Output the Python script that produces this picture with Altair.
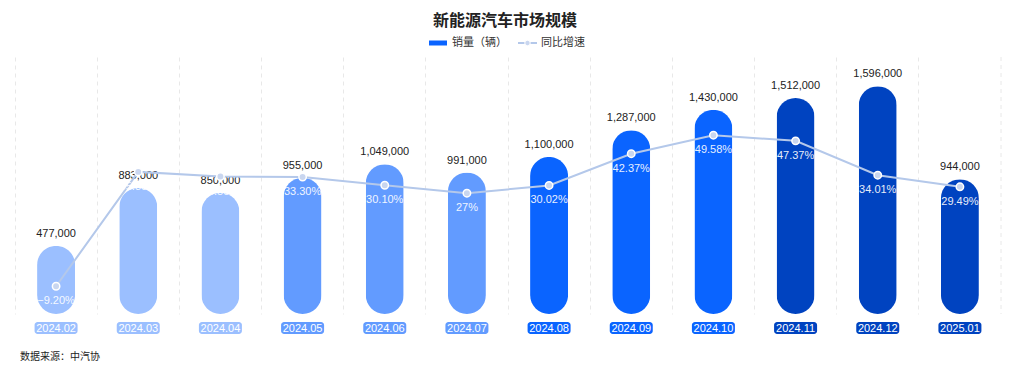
import altair as alt
import pandas as pd

months = ["2024.02", "2024.03", "2024.04", "2024.05", "2024.06", "2024.07",
          "2024.08", "2024.09", "2024.10", "2024.11", "2024.12", "2025.01"]
sales = [477000, 883000, 850000, 955000, 1049000, 991000,
         1100000, 1287000, 1430000, 1512000, 1596000, 944000]
growth = [-9.20, 35.30, 33.50, 33.30, 30.10, 27.00,
          30.02, 42.37, 49.58, 47.37, 34.01, 29.49]
growth_labels = ["−9.20%", "35.30%", "33.50%", "33.30%", "30.10%", "27%",
                 "30.02%", "42.37%", "49.58%", "47.37%", "34.01%", "29.49%"]
bar_colors = ["#9bbfff"] * 3 + ["#629bff"] * 3 + ["#0a64ff"] * 3 + ["#0043c0"] * 3

df = pd.DataFrame({
    "month": months,
    "sales": sales,
    "growth": growth,
    "glabel": growth_labels,
    "slabel": [f"{v:,}" for v in sales],
})

FONT_NUM = "Liberation Sans"
FONT_CJK = "Noto Sans CJK SC"

x_enc = alt.X("month:N", sort=months,
              scale=alt.Scale(paddingInner=0, paddingOuter=0),
              axis=alt.Axis(bandPosition=0, grid=True, gridDash=[4, 4],
                            gridColor="#e8e8e8", labels=False, ticks=False,
                            domain=False, title=None))
y_sales = alt.Y("sales:Q", scale=alt.Scale(domain=[0, 1800000]), axis=None)
y_growth = alt.Y("growth:Q", scale=alt.Scale(domain=[-20, 80]), axis=None)
color_enc = alt.Color("month:N", scale=alt.Scale(domain=months, range=bar_colors), legend=None)

base = alt.Chart(df)

bars = base.mark_bar(width=38, cornerRadius=19).encode(x=x_enc, y=y_sales, color=color_enc)
bar_labels = base.mark_text(baseline="bottom", dy=-7, fontSize=11, color="#222",
                            font=FONT_NUM).encode(x=x_enc, y=y_sales, text="slabel:N")
badges = base.mark_bar(width=43, cornerRadius=3).encode(
    x=x_enc, y=alt.value(265), y2=alt.value(277), color=color_enc)
badge_text = base.mark_text(fontSize=11, color="white", baseline="middle",
                            font=FONT_NUM).encode(x=x_enc, y=alt.value(271.5), text="month:N")
right_edge = alt.Chart(pd.DataFrame({"a": [0]})).mark_rule(
    strokeDash=[4, 4], color="#e8e8e8").encode(x=alt.value(986), y=alt.value(0), y2=alt.value(257))

left = alt.layer(right_edge, bars, bar_labels, badges, badge_text)

line = base.mark_line(color="#b4c8ea", strokeWidth=2).encode(x=x_enc, y=y_growth)
points = base.mark_point(filled=True, fill="#c9d6ef", stroke="white", strokeWidth=1.5,
                         size=55, opacity=1).encode(x=x_enc, y=y_growth)
pct = base.mark_text(baseline="middle", dy=15, fontSize=11, color="white", opacity=0.9,
                     font=FONT_NUM).encode(x=x_enc, y=y_growth, text="glabel:N")
right = alt.layer(line, points, pct)

one = pd.DataFrame({"a": [0]})
title = alt.Chart(one).mark_text(fontSize=16, fontWeight="bold", color="#222", font=FONT_CJK,
                                 baseline="middle", align="center").encode(
    x=alt.value(490), y=alt.value(-36), text=alt.value("新能源汽车市场规模"))
leg_rect = alt.Chart(one).mark_rect(color="#0a64ff").encode(
    x=alt.value(414), x2=alt.value(432), y=alt.value(-16.5), y2=alt.value(-11.5))
leg_t1 = alt.Chart(one).mark_text(fontSize=11, color="#333", font=FONT_CJK, align="left",
                                  baseline="middle").encode(
    x=alt.value(437), y=alt.value(-14), text=alt.value("销量（辆）"))
leg_line = alt.Chart(one).mark_rule(color="#b4c8ea", strokeWidth=2).encode(
    x=alt.value(503), x2=alt.value(522), y=alt.value(-14))
leg_pt = alt.Chart(one).mark_point(filled=True, fill="#c9d6ef", stroke="white", strokeWidth=1,
                                   size=30, opacity=1).encode(x=alt.value(512.5), y=alt.value(-14))
leg_t2 = alt.Chart(one).mark_text(fontSize=11, color="#333", font=FONT_CJK, align="left",
                                  baseline="middle").encode(
    x=alt.value(526), y=alt.value(-14), text=alt.value("同比增速"))
footer = alt.Chart(one).mark_text(fontSize=10, color="#222", font=FONT_CJK, align="left",
                                  baseline="middle").encode(
    x=alt.value(5), y=alt.value(300), text=alt.value("数据来源：中汽协"))
deco = alt.layer(title, leg_rect, leg_t1, leg_line, leg_pt, leg_t2, footer)

chart = alt.layer(left, right, deco).resolve_scale(y="independent").properties(
    width=986, height=257,
    autosize=alt.AutoSizeParams(type="none"),
    padding={"left": 7, "top": 49, "right": 2, "bottom": 50},
).configure_view(stroke=None)

chart.save("out.html", embed_options={"renderer": "svg", "actions": False})
